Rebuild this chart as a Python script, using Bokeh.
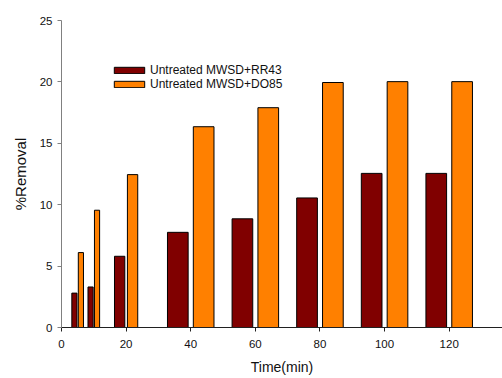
import numpy as np
from bokeh.plotting import figure
from bokeh.models import ColumnDataSource, FixedTicker, Legend, LegendItem
from bokeh.embed import file_html
from bokeh.resources import INLINE

# Data
time_min = [5, 10, 20, 40, 60, 80, 100, 120]
removal_rr43 = [2.8, 3.3, 5.8, 7.75, 8.85, 10.55, 12.55, 12.55]
removal_do85 = [6.1, 9.55, 12.45, 16.35, 17.9, 19.95, 20.02, 20.02]
series_names = ["Untreated MWSD+RR43", "Untreated MWSD+DO85"]
x_ticks = [0, 20, 40, 60, 80, 100, 120]
y_ticks = [0, 5, 10, 15, 20, 25]

FONT = "Liberation Sans"

t = np.array(time_min, dtype=float)
spacing = np.diff(np.concatenate([[0.0], t]))
width = 0.32 * spacing
offset = 0.2 * spacing

src1 = ColumnDataSource(dict(x=t - offset, top=removal_rr43, w=width))
src2 = ColumnDataSource(dict(x=t + offset, top=removal_do85, w=width))

p = figure(width=502, height=378, output_backend="svg", toolbar_location=None,
           x_range=(0, 136.5), y_range=(0, 25),
           min_border_left=61, min_border_right=0, min_border_top=20, min_border_bottom=51)
p.outline_line_color = None
p.xgrid.visible = False
p.ygrid.visible = False
p.background_fill_color = "white"
p.border_fill_color = "white"

r1 = p.vbar(x="x", top="top", width="w", bottom=0, source=src1,
            fill_color="#800000", line_color="black", line_width=1)
r2 = p.vbar(x="x", top="top", width="w", bottom=0, source=src2,
            fill_color="#FF8000", line_color="black", line_width=1)

# axes
p.xaxis.ticker = FixedTicker(ticks=x_ticks)
p.yaxis.ticker = FixedTicker(ticks=y_ticks)
for ax in (p.xaxis[0], p.yaxis[0]):
    ax.minor_tick_line_color = None
    ax.major_tick_in = 0
    ax.major_tick_out = 4
    ax.major_label_text_font = FONT
    ax.major_label_text_font_size = "11.5px"
    ax.major_label_text_color = "#111111"
    ax.axis_label_text_font = FONT
    ax.axis_label_text_font_style = "normal"
    ax.axis_label_text_color = "#111111"

p.xaxis.axis_line_color = "#202020"
p.xaxis.major_tick_line_color = "#202020"
p.yaxis.axis_line_color = "#808080"
p.yaxis.major_tick_line_color = "#808080"
p.xaxis.major_label_standoff = 8
p.yaxis.major_label_standoff = 5
p.xaxis.axis_label = "Time(min)"
p.yaxis.axis_label = "%Removal"
p.xaxis.axis_label_text_font_size = "14px"
p.yaxis.axis_label_text_font_size = "15px"
p.xaxis.axis_label_standoff = 8
p.yaxis.axis_label_standoff = 8

legend = Legend(items=[LegendItem(label=series_names[0], renderers=[r1]),
                       LegendItem(label=series_names[1], renderers=[r2])],
                location=(49, 236), orientation="vertical",
                glyph_width=38, glyph_height=8, label_height=8, spacing=-5,
                padding=0, margin=0, label_standoff=2,
                label_text_font=FONT, label_text_font_size="12px",
                label_text_color="#111111",
                border_line_color=None, background_fill_alpha=0)
p.add_layout(legend, "center")

open("out.html", "w").write(file_html(p, INLINE))
